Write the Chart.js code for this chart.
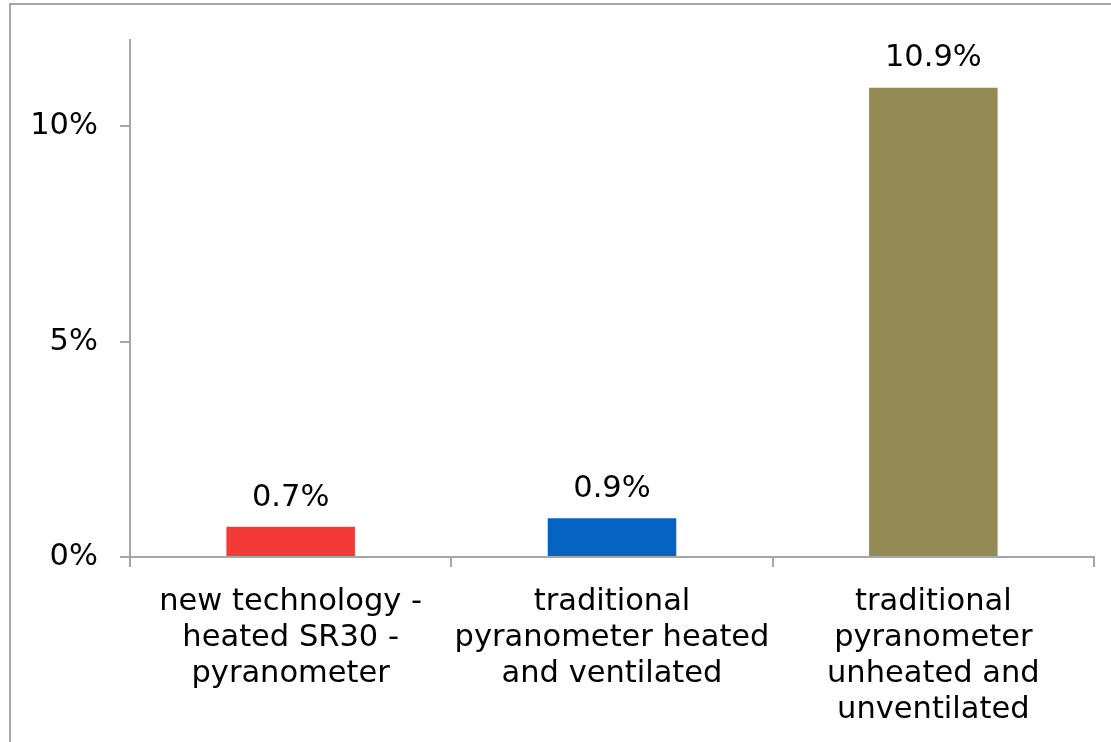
<!DOCTYPE html>
<html>
<head>
<meta charset="utf-8">
<script src="https://cdn.jsdelivr.net/npm/chart.js@4"></script>
<style>
  html, body { margin: 0; padding: 0; background: #fff; overflow: hidden; }
  #wrap { position: relative; width: 1111px; height: 742px; }
  #frame { position: absolute; left: 9px; top: 3px; width: 1200px; height: 800px;
           border: 2px solid #A6A6A6; box-sizing: border-box; pointer-events: none; }
  canvas { position: absolute; left: 0; top: 0; }
</style>
</head>
<body>
<div id="wrap">
  <canvas id="c" width="1111" height="742"></canvas>
  <div id="frame"></div>
</div>
<script>
// Categories (wrapped onto lines as shown under the axis)
const categories = [
  ["new technology -", "heated SR30 -", "pyranometer"],
  ["traditional", "pyranometer heated", "and ventilated"],
  ["traditional", "pyranometer", "unheated and", "unventilated"]
];
// Error values, in percent
const values = [0.7, 0.9, 10.9];
const barColors = ["#F33A37", "#0563C1", "#948A54"];
const yTicks = [0, 5, 10];

const FONT = "'DejaVu Sans', Verdana, sans-serif";
const FONT_SIZE = 30.5;
const AXIS_GREY = "#A6A6A6";

// Writes each bar's value above it
const valueLabels = {
  id: "valueLabels",
  afterDatasetsDraw(chart) {
    const ctx = chart.ctx;
    const meta = chart.getDatasetMeta(0);
    ctx.save();
    ctx.font = FONT_SIZE + "px " + FONT;
    ctx.fillStyle = "#000";
    ctx.textAlign = "center";
    ctx.textBaseline = "bottom";
    meta.data.forEach((bar, i) => {
      ctx.fillText(values[i].toFixed(1) + "%", bar.x, bar.y - 14);
    });
    ctx.restore();
  }
};

new Chart(document.getElementById("c"), {
  type: "bar",
  data: {
    labels: categories,
    datasets: [{
      data: values,
      backgroundColor: barColors,
      borderWidth: 0,
      categoryPercentage: 1,
      barPercentage: 0.4
    }]
  },
  options: {
    responsive: false,
    animation: false,
    layout: { padding: { left: 0, top: 37, right: 17, bottom: 0 } },
    plugins: { legend: { display: false }, tooltip: { enabled: false } },
    scales: {
      x: {
        offset: true,
        afterFit(s) { s.height = 185; },
        border: { color: AXIS_GREY, width: 2 },
        grid: { offset: true, drawOnChartArea: false, drawTicks: true, tickLength: 10, color: AXIS_GREY, lineWidth: 2 },
        ticks: { color: "#000", font: { family: FONT, size: FONT_SIZE, lineHeight: 1.18 }, padding: 17, maxRotation: 0, autoSkip: false }
      },
      y: {
        min: 0,
        max: 12,
        afterFit(s) { s.width = 130; },
        afterBuildTicks(s) { s.ticks = yTicks.map(v => ({ value: v })); },
        border: { color: AXIS_GREY, width: 2 },
        grid: { drawOnChartArea: false, drawTicks: true, tickLength: 10, color: AXIS_GREY, lineWidth: 2 },
        ticks: { color: "#000", font: { family: FONT, size: FONT_SIZE }, padding: 22, callback: v => v + "%" }
      }
    }
  },
  plugins: [valueLabels]
});
</script>
</body>
</html>
